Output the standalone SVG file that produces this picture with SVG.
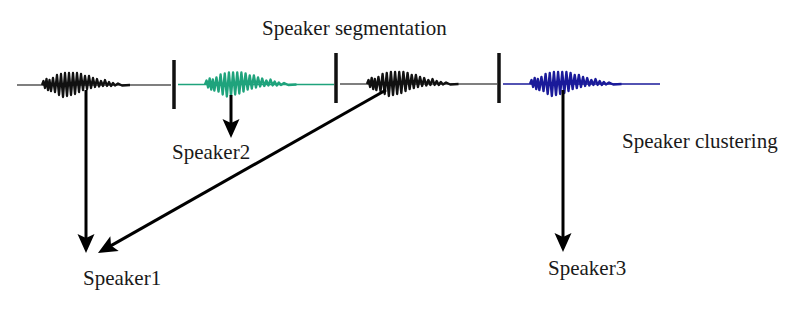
<svg xmlns="http://www.w3.org/2000/svg" xmlns:xlink="http://www.w3.org/1999/xlink" width="800" height="309" viewBox="0 0 800 309">
<style>
  .lbl { font-family: "Liberation Serif", "Times New Roman", serif; font-size: 21px; fill: #1a1a1a; }
  .sep { stroke: #111; stroke-width: 3.5; }
  .arr { stroke: #000; stroke-width: 3; fill: none; marker-end: url(#ah); }
  .flat { stroke-width: 1.6; fill: none; }
  .burst { stroke-width: 2.3; fill: none; stroke-linejoin: round; }
</style>
<defs>
  <marker id="ah" markerUnits="userSpaceOnUse" viewBox="-10 -10 25 20" refX="0" refY="0" markerWidth="25" markerHeight="20" orient="auto">
    <path d="M13,0 L-6,-8.5 L-2,0 L-6,8.5 Z" fill="#000"/>
  </marker>
  <path id="wave" d="M0,0 L1.5,-4 L3,3 L4.5,-6 L6,5 L7.5,-5 L9,6 L11,-7 L13,7 L15,-10 L17,10 L19,-11 L21,12 L23,-12 L25,11 L27,-12 L29,10 L31,-12 L33,9 L35,-12 L37,7 L39,-11 L41,5 L43,-9 L45,4 L47,-9 L49,3 L51,-7 L53,2 L55,-6 L57,1.5 L59,-4 L61,1 L63,-5 L65,1 L67,-3 L69,1 L71,-2 L73,0.5 L76,-1.5 L80,0.5 L88,0"/>
</defs>
<rect width="800" height="309" fill="#fff"/>

<g id="segment1">
  <line class="flat" x1="17" y1="85" x2="171" y2="85" stroke="#555"/>
  <use xlink:href="#wave" href="#wave" class="burst" transform="translate(42,85)" stroke="#111"/>
</g>
<g id="segment2">
  <line class="flat" x1="178" y1="84.5" x2="334" y2="84.5" stroke="#1fa37c"/>
  <use xlink:href="#wave" href="#wave" class="burst" transform="translate(205,84.5) scale(1.04,1)" stroke="#1fa37c"/>
</g>
<g id="segment3">
  <line class="flat" x1="340" y1="84" x2="497" y2="84" stroke="#555"/>
  <use xlink:href="#wave" href="#wave" class="burst" transform="translate(367,84) scale(1.04,1)" stroke="#111"/>
</g>
<g id="segment4">
  <line class="flat" x1="503" y1="84" x2="660" y2="84" stroke="#1a1a9a"/>
  <use xlink:href="#wave" href="#wave" class="burst" transform="translate(530,84) scale(1.04,1)" stroke="#1a1a9a"/>
</g>

<g id="separators">
  <line class="sep" x1="174" y1="60" x2="174" y2="109"/>
  <line class="sep" x1="336" y1="53" x2="336" y2="103"/>
  <line class="sep" x1="499" y1="53" x2="499" y2="103"/>
</g>

<g id="connectors">
  <line class="arr" x1="86" y1="90" x2="86" y2="240"/>
  <line class="arr" x1="386" y1="90" x2="109.3" y2="246.6"/>
  <line class="arr" x1="231" y1="95" x2="231" y2="125"/>
  <line class="arr" x1="563" y1="90" x2="563" y2="239"/>
</g>

<g id="title-segmentation"><text class="lbl" x="262" y="35">Speaker segmentation</text></g>
<g id="title-clustering"><text class="lbl" x="622" y="148">Speaker clustering</text></g>
<g id="node-speaker2"><text class="lbl" x="172" y="159">Speaker2</text></g>
<g id="node-speaker1"><text class="lbl" x="83" y="285">Speaker1</text></g>
<g id="node-speaker3"><text class="lbl" x="548" y="275">Speaker3</text></g>
</svg>
